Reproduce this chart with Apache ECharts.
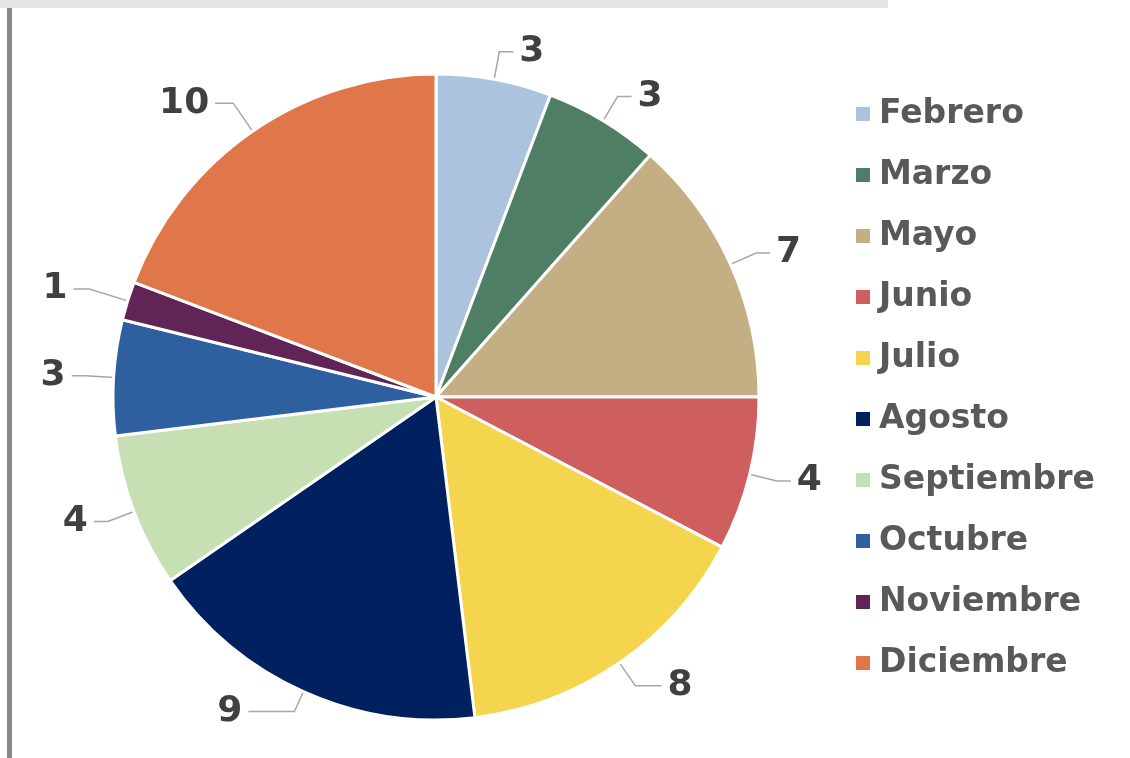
<!DOCTYPE html>
<html>
<head>
<meta charset="utf-8">
<script src="https://cdn.jsdelivr.net/npm/echarts@6/dist/echarts.min.js"></script>
<style>
  html, body { margin: 0; padding: 0; background: #fff; }
  #main { width: 1130px; height: 758px; }
</style>
</head>
<body>
<div id="main"></div>
<script>
// meses y valores
const meses = ["Febrero", "Marzo", "Mayo", "Junio", "Julio", "Agosto",
  "Septiembre", "Octubre", "Noviembre", "Diciembre"];
const valores = [3, 3, 7, 4, 8, 9, 4, 3, 1, 10];
const colores = ["#abc3dc", "#4e7f65", "#c4ae84", "#cf5f5e", "#f4d54d",
  "#00205f", "#c6e0b4", "#2e5f9f", "#612456", "#e0774a"];

// ajustes de las líneas guía (como en Excel)
const guias = {
  Julio: { length: 28, length2: 26 },
  Agosto: { length: 22, length2: 46 },
  Noviembre: { length: 40, length2: 16 },
  Diciembre: { length: 34, length2: 18 }
};

const fuente = "'DejaVu Sans', sans-serif";
const chart = echarts.init(document.getElementById("main"));

chart.setOption({
  animation: false,
  color: colores,
  graphic: [
    { type: "rect", shape: { x: 0, y: 0, width: 888, height: 8 }, style: { fill: "#e6e6e6" } },
    { type: "rect", shape: { x: 7, y: 8, width: 5, height: 750 }, style: { fill: "#888888" } }
  ],
  legend: {
    orient: "vertical",
    left: 849,
    top: 92,
    itemWidth: 16,
    itemHeight: 16,
    itemGap: 27,
    icon: "rect",
    textStyle: { fontFamily: fuente, fontWeight: "bold", fontSize: 33, lineHeight: 34, color: "#595959", padding: [0, 0, 0, 3] },
    data: meses
  },
  series: [{
    type: "pie",
    center: [436, 397],
    radius: 323,
    startAngle: 90,
    clockwise: true,
    avoidLabelOverlap: false,
    itemStyle: { borderColor: "#fff", borderWidth: 3 },
    label: {
      show: true,
      formatter: "{c}",
      fontFamily: fuente,
      fontWeight: "bold",
      fontSize: 36,
      color: "#404040",
      distanceToLabelLine: 6
    },
    labelLine: {
      show: true,
      length: 28,
      length2: 14,
      lineStyle: { color: "#a6a6a6", width: 1.5 }
    },
    data: meses.map((m, i) => {
      const d = { name: m, value: valores[i] };
      if (guias[m]) d.labelLine = guias[m];
      return d;
    })
  }]
});
</script>
</body>
</html>
